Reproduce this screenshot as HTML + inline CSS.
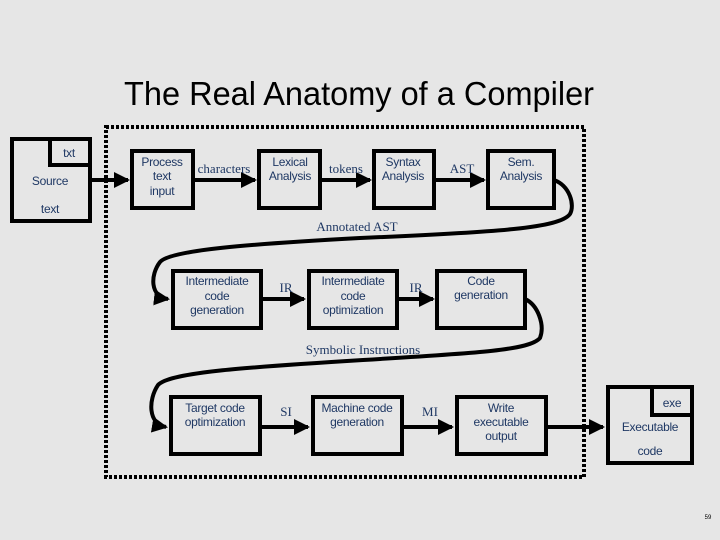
<!DOCTYPE html>
<html><head><style>
html,body{margin:0;padding:0;background:#e6e6e6;}
svg{display:block}
.t{font-family:"Liberation Sans",sans-serif;fill:#1f3864;font-size:12px;text-anchor:middle;letter-spacing:-0.3px}
.s{font-family:"Liberation Serif",serif;fill:#1f3864;font-size:13px;text-anchor:middle}
.b{fill:none;stroke:#000;stroke-width:4}
.l{fill:none;stroke:#000;stroke-width:4}
</style></head><body>
<svg width="720" height="540" viewBox="0 0 720 540">
<defs><marker id="a" markerWidth="4" markerHeight="4" refX="3.5" refY="2" orient="auto" markerUnits="strokeWidth"><path d="M0,0 L4,2 L0,4z" fill="#000"/></marker></defs>
<text x="359" y="105" font-family="Liberation Sans,sans-serif" font-size="33" text-anchor="middle" fill="#000" textLength="470" lengthAdjust="spacingAndGlyphs">The Real Anatomy of a Compiler</text>
<rect x="106" y="127" width="478" height="350" fill="none" stroke="#000" stroke-width="4" stroke-dasharray="3,2"/>
<!-- source -->
<rect class="b" x="12" y="139" width="78" height="82"/>
<rect class="b" x="50" y="139" width="40" height="26"/>
<text class="t" x="69" y="157" font-size="14">txt</text>
<text class="t" x="50" y="185" font-size="15">Source</text>
<text class="t" x="50" y="213" font-size="15">text</text>
<!-- row1 -->
<line class="l" x1="90" y1="180" x2="128" y2="180" marker-end="url(#a)"/>
<rect class="b" x="132" y="151" width="61" height="57"/>
<text class="t" x="162" y="166">Process</text><text class="t" x="162" y="180">text</text><text class="t" x="162" y="195">input</text>
<line class="l" x1="193" y1="180" x2="255" y2="180" marker-end="url(#a)"/>
<text class="s" x="224" y="173">characters</text>
<rect class="b" x="259" y="151" width="61" height="57"/>
<text class="t" x="290" y="166">Lexical</text><text class="t" x="290" y="180">Analysis</text>
<line class="l" x1="320" y1="180" x2="370" y2="180" marker-end="url(#a)"/>
<text class="s" x="346" y="173">tokens</text>
<rect class="b" x="374" y="151" width="60" height="57"/>
<text class="t" x="403" y="166">Syntax</text><text class="t" x="403" y="180">Analysis</text>
<line class="l" x1="434" y1="180" x2="484" y2="180" marker-end="url(#a)"/>
<text class="s" x="462" y="173">AST</text>
<rect class="b" x="488" y="151" width="66" height="57"/>
<text class="t" x="521" y="166">Sem.</text><text class="t" x="521" y="180">Analysis</text>
<path class="l" d="M554,180 C570,186 575,205 570,214 C560,228 500,232 360,238 C250,244 170,250 160,262 C150,275 150,297 168,299" marker-end="url(#a)"/>
<text class="s" x="357" y="231">Annotated AST</text>
<!-- row2 -->
<rect class="b" x="173" y="271" width="88" height="57"/>
<text class="t" x="217" y="285">Intermediate</text><text class="t" x="217" y="300">code</text><text class="t" x="217" y="314">generation</text>
<line class="l" x1="261" y1="299" x2="304" y2="299" marker-end="url(#a)"/>
<text class="s" x="286" y="292">IR</text>
<rect class="b" x="309" y="271" width="88" height="57"/>
<text class="t" x="353" y="285">Intermediate</text><text class="t" x="353" y="300">code</text><text class="t" x="353" y="314">optimization</text>
<line class="l" x1="397" y1="299" x2="433" y2="299" marker-end="url(#a)"/>
<text class="s" x="416" y="292">IR</text>
<rect class="b" x="437" y="271" width="88" height="57"/>
<text class="t" x="481" y="285">Code</text><text class="t" x="481" y="299">generation</text>
<path class="l" d="M525,299 C538,305 545,325 540,338 C530,350 480,353 363,360 C250,367 170,372 158,385 C148,400 148,424 166,427" marker-end="url(#a)"/>
<text class="s" x="363" y="354">Symbolic Instructions</text>
<!-- row3 -->
<rect class="b" x="171" y="397" width="89" height="57"/>
<text class="t" x="215" y="412">Target code</text><text class="t" x="215" y="426">optimization</text>
<line class="l" x1="260" y1="427" x2="308" y2="427" marker-end="url(#a)"/>
<text class="s" x="286" y="416">SI</text>
<rect class="b" x="313" y="397" width="89" height="57"/>
<text class="t" x="357" y="412">Machine code</text><text class="t" x="357" y="426">generation</text>
<line class="l" x1="402" y1="427" x2="452" y2="427" marker-end="url(#a)"/>
<text class="s" x="430" y="416">MI</text>
<rect class="b" x="457" y="397" width="89" height="57"/>
<text class="t" x="501" y="412">Write</text><text class="t" x="501" y="426">executable</text><text class="t" x="501" y="440">output</text>
<line class="l" x1="546" y1="427" x2="603" y2="427" marker-end="url(#a)"/>
<rect class="b" x="608" y="387" width="84" height="76"/>
<rect class="b" x="652" y="387" width="40" height="28"/>
<text class="t" x="672" y="407" font-size="14">exe</text>
<text class="t" x="650" y="431" font-size="14">Executable</text>
<text class="t" x="650" y="455" font-size="14">code</text>
<text x="708" y="519" font-family="Liberation Sans,sans-serif" font-size="6" fill="#000" text-anchor="middle">59</text>
</svg>
</body></html>
